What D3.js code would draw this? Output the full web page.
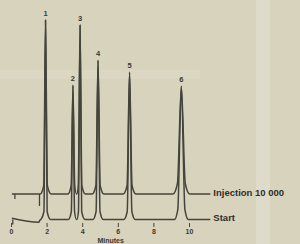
<!DOCTYPE html>
<meta charset="utf-8">
<script src="https://d3js.org/d3.v7.min.js"></script>
<style>
  body { margin: 0; background: #d8d3bd; overflow: hidden; }
  svg text { font-family: "Liberation Sans", Arial, sans-serif; font-weight: bold; }
</style>
<body>
<div id="chart"></div>
<script>
// chart values (minutes, signal)
var tickValues = [0, 2, 4, 6, 8, 10];
var peakLabels = ["1", "2", "3", "4", "5", "6"];
var peakTimes = [1.94, 3.48, 3.88, 4.89, 6.66, 9.57];
var peakHeights = [99.75, 67.25, 97.25, 79.75, 73.75, 66.75];
var seriesNames = ["Injection 10 000", "Start"];
var baselines = [12.75, 0];

var injectionTrace = [
  [0.05, 12.75], [1.64, 12.75], [1.84, 17], [1.94, 99.5], [2.04, 17], [2.26, 12.75],
  [3.20, 12.75], [3.38, 17], [3.48, 67.0], [3.58, 17], [3.68, 12.75],
  [3.70, 12.75], [3.78, 17], [3.88, 97.0], [3.98, 17], [4.18, 12.75],
  [4.56, 12.75], [4.77, 17], [4.89, 79.5], [5.01, 17], [5.22, 12.75],
  [6.30, 12.75], [6.52, 17], [6.66, 73.5], [6.80, 17], [7.02, 12.75],
  [9.10, 12.75], [9.35, 18], [9.57, 66.5], [9.79, 18], [10.04, 12.75],
  [11.2, 12.75]
];

var startTrace = [
  [0.05, 0.6], [1.56, -1.4], [1.62, -0.4], [1.68, 0], [1.85, 4], [1.94, 99.75], [2.03, 4], [2.22, 0],
  [3.22, 0], [3.39, 4], [3.48, 67.25], [3.57, 4], [3.68, 0],
  [3.70, 0], [3.79, 4], [3.88, 97.25], [3.97, 4], [4.16, 0],
  [4.60, 0], [4.78, 4], [4.89, 79.75], [5.00, 4], [5.18, 0],
  [6.34, 0], [6.53, 4], [6.66, 73.75], [6.79, 4], [6.98, 0],
  [9.18, 0], [9.37, 5], [9.57, 66.75], [9.77, 5], [9.96, 0],
  [11.2, 0]
];

// little injection marks under the baselines: [minutes, depth]
var injectionMarks = [[0.22, 2.5], [1.60, 6]];
var startMarks = [[0.10, 2.5]];

var width = 300, height = 244;

var svg = d3.select("#chart")
  .append("svg")
  .attr("width", width)
  .attr("height", height);

// photo light bands
svg.append("rect").attr("x", 0).attr("y", 70).attr("width", 200).attr("height", 9)
  .attr("fill", "#fff").attr("opacity", 0.1);
svg.append("rect").attr("x", 256).attr("y", 0).attr("width", 14).attr("height", height)
  .attr("fill", "#fff").attr("opacity", 0.2);

var x = d3.scaleLinear().domain([0, 10]).range([11, 189]);
var y = d3.scaleLinear().domain([0, 100]).range([219.5, 19.5]);

var line = d3.line()
  .x(function (d) { return x(d[0]); })
  .y(function (d) { return y(d[1]); })
  .curve(d3.curveMonotoneX);

var traces = [injectionTrace, startTrace];

svg.selectAll("myLines")
  .data(traces)
  .enter()
  .append("path")
  .attr("d", function (d) { return line(d); })
  .attr("fill", "none")
  .attr("stroke", "#45443c")
  .attr("stroke-width", 1.5)
  .attr("stroke-linejoin", "round");

// marks
[injectionMarks, startMarks].forEach(function (marks, i) {
  svg.selectAll(null)
    .data(marks)
    .enter()
    .append("line")
    .attr("x1", function (d) { return x(d[0]); })
    .attr("x2", function (d) { return x(d[0]); })
    .attr("y1", y(baselines[i]))
    .attr("y2", function (d) { return y(baselines[i] - d[1]); })
    .attr("stroke", "#45443c")
    .attr("stroke-width", 1.3);
});

// peak numbers
svg.selectAll("myLabels")
  .data(peakTimes)
  .enter()
  .append("text")
  .attr("x", function (d) { return x(d); })
  .attr("y", function (d, i) { return y(peakHeights[i]) - 4; })
  .attr("text-anchor", "middle")
  .style("font-size", "7.5px")
  .style("fill", "#3a3932")
  .text(function (d, i) { return peakLabels[i]; });

// series names at the trace ends
svg.selectAll("mySeries")
  .data(seriesNames)
  .enter()
  .append("text")
  .attr("x", x(11.2) + 3)
  .attr("y", function (d, i) { return y(baselines[i]) + 1.5; })
  .style("font-size", "9.5px")
  .style("fill", "#2f2e28")
  .text(function (d) { return d; });

// x axis
var axis = svg.append("g")
  .attr("transform", "translate(0,223)")
  .call(d3.axisBottom(x).tickValues(tickValues).tickSize(4).tickPadding(2));
axis.select(".domain").remove();
axis.selectAll("line").attr("stroke", "#45443c");
axis.selectAll("text")
  .style("font-size", "7px")
  .style("font-family", "Liberation Sans, Arial, sans-serif")
  .style("font-weight", "bold")
  .attr("fill", "#3a3932");

svg.append("text")
  .attr("x", x(5.6))
  .attr("y", 242.5)
  .attr("text-anchor", "middle")
  .style("font-size", "7px")
  .style("fill", "#3a3932")
  .text("Minutes");
</script>
</body>
